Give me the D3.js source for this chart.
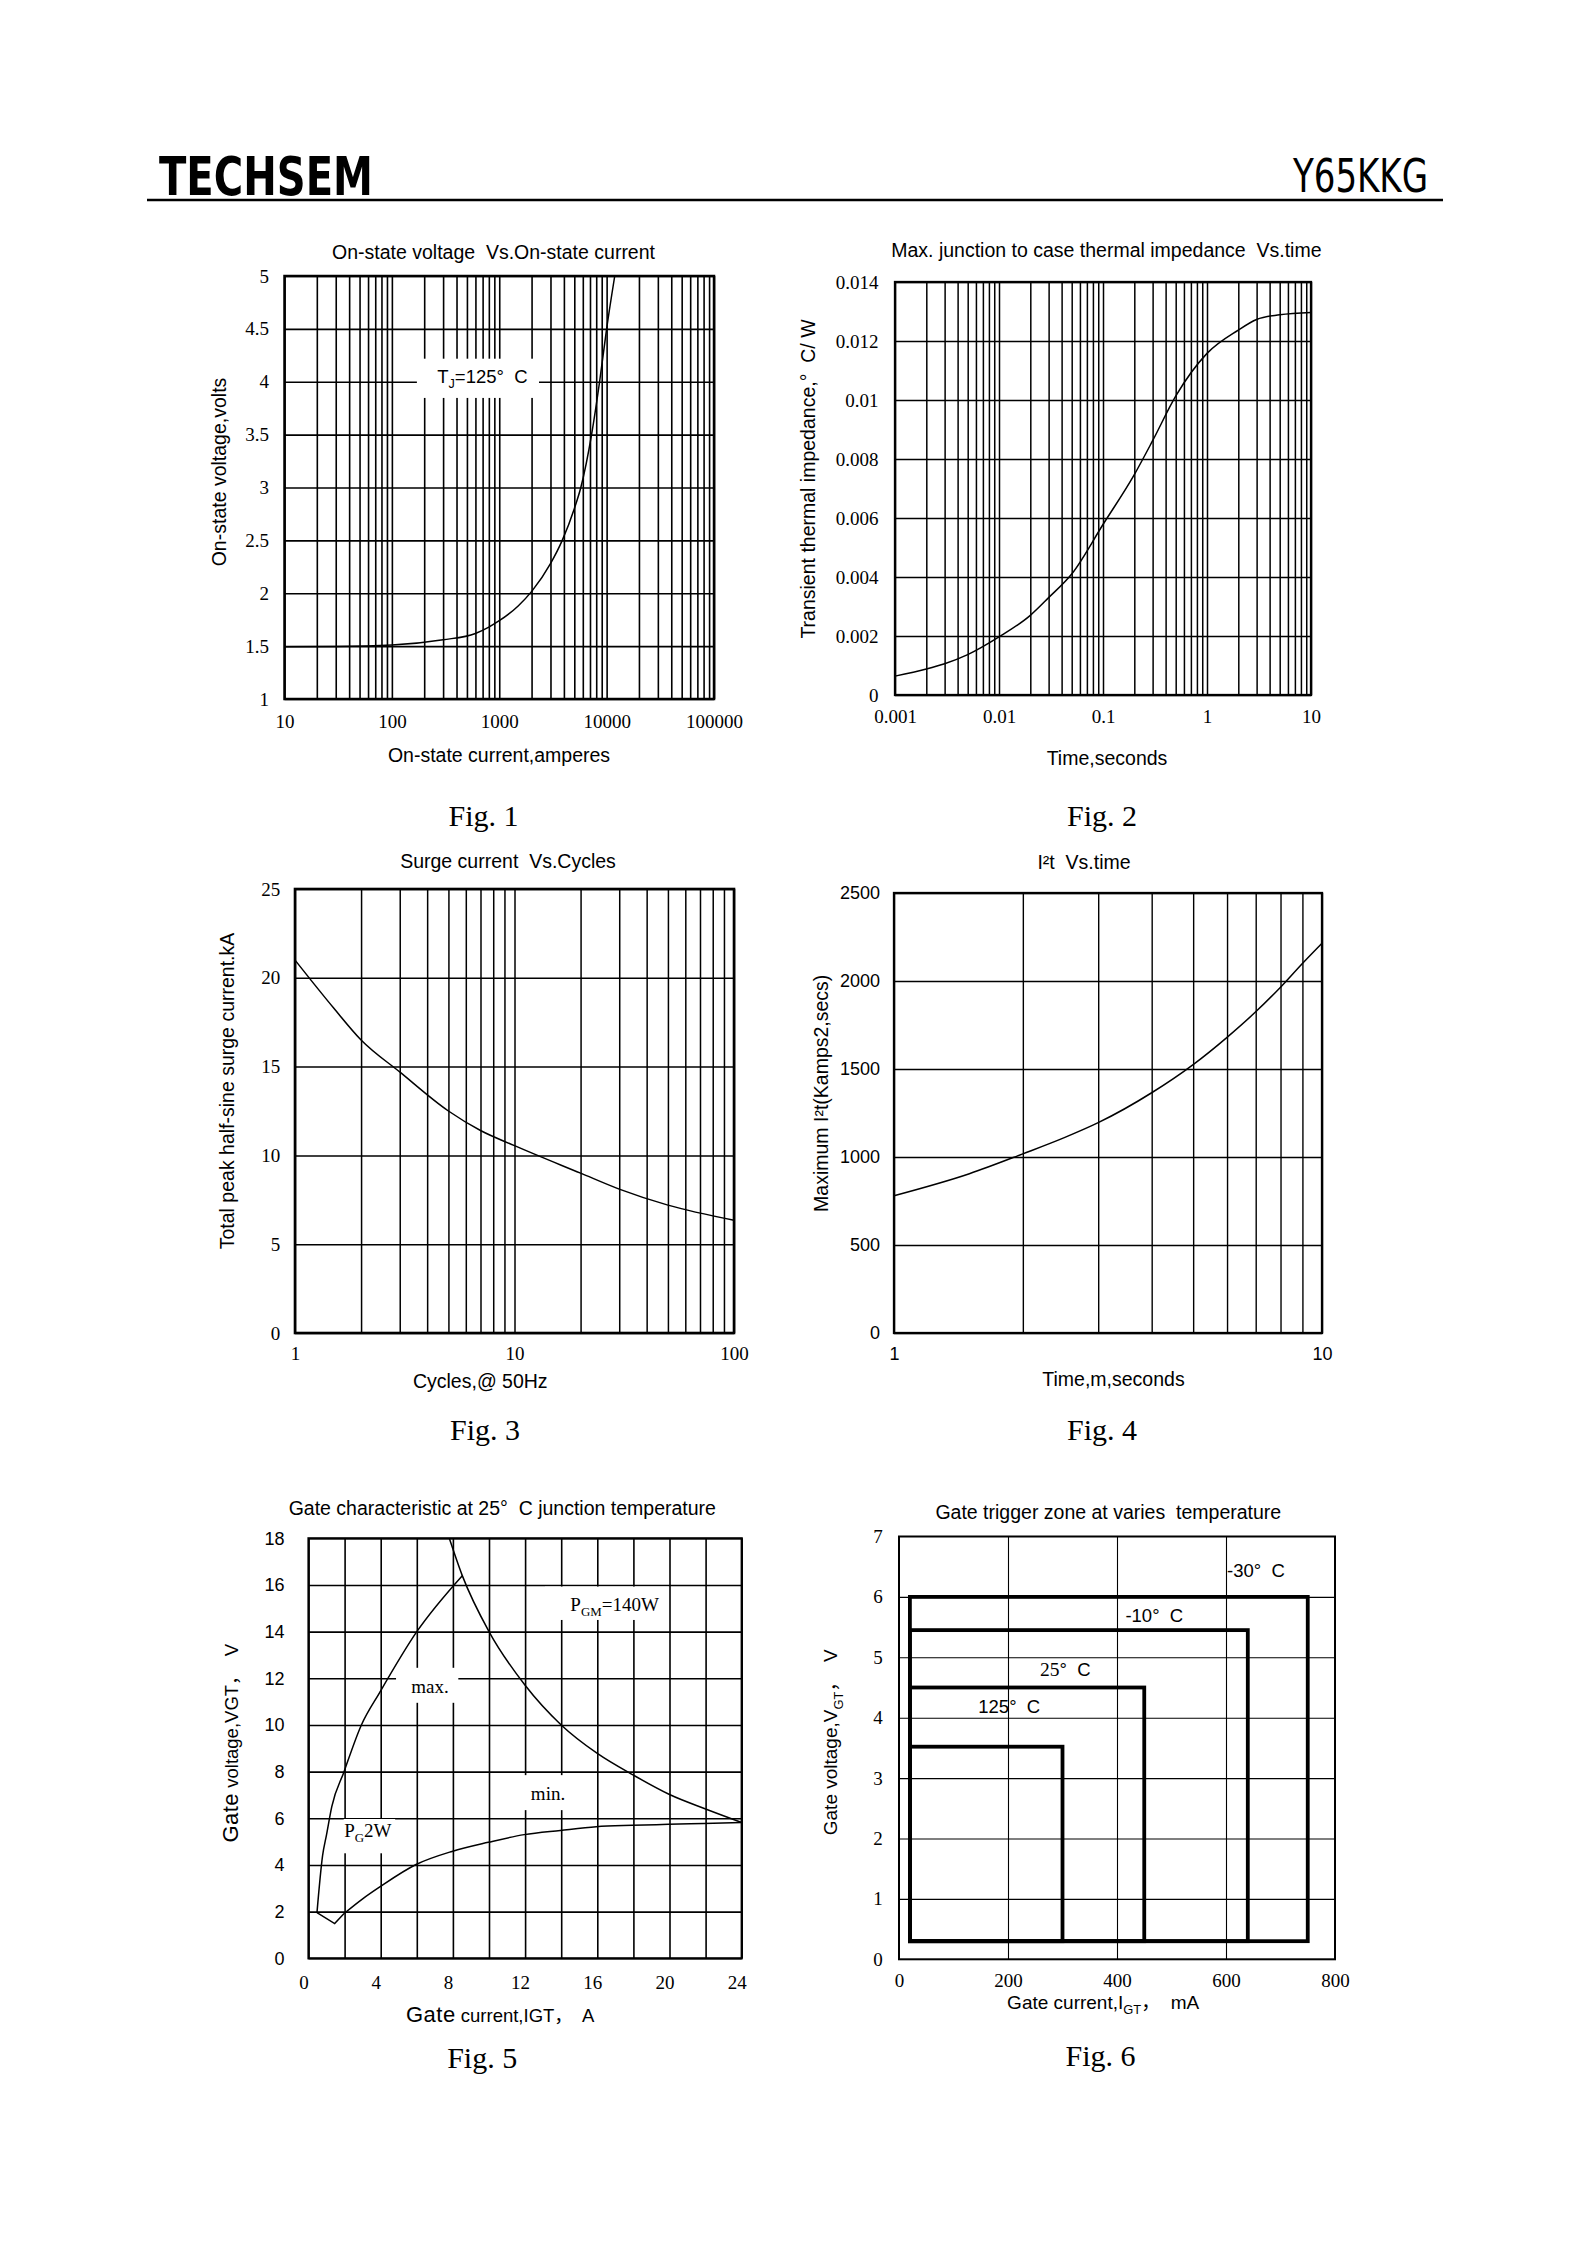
<!DOCTYPE html>
<html>
<head>
<meta charset="utf-8">
<script src="https://cdn.jsdelivr.net/npm/d3@7"></script>
<style>
  body { margin: 0; background: #fff; }
  text { white-space: pre; }
</style>
</head>
<body>
<script>
// Fig.1 on-state voltage vs current (Tj = 125 C)
const fig1Current = [10, 30, 100, 300, 600, 800, 1000, 1500, 2015, 3000, 3860, 5000, 5750, 7240, 8600, 10000, 11900];
const fig1Voltage = [1.495, 1.497, 1.51, 1.56, 1.62, 1.68, 1.74, 1.88, 2.02, 2.28, 2.5, 2.8, 3.0, 3.5, 4.0, 4.5, 5.0];
const fig1XLabels = [10, 100, 1000, 10000, 100000];
const fig1YLabels = [1, 1.5, 2, 2.5, 3, 3.5, 4, 4.5, 5];

// Fig.2 transient thermal impedance
const fig2Time = [0.001, 0.002, 0.003, 0.005, 0.01, 0.02, 0.03, 0.05, 0.1, 0.2, 0.3, 0.5, 1, 2, 3, 5, 10];
const fig2Zth = [0.00064, 0.00088, 0.00106, 0.00137, 0.00197, 0.0027, 0.0033, 0.0041, 0.00578, 0.00747, 0.00862, 0.01013, 0.01158, 0.01237, 0.01273, 0.01289, 0.01297];
const fig2XLabels = [0.001, 0.01, 0.1, 1, 10];
const fig2YLabels = [0, 0.002, 0.004, 0.006, 0.008, 0.01, 0.012, 0.014];

// Fig.3 surge current vs cycles
const fig3Cycles = [1, 1.5, 2, 3, 5, 7, 10, 20, 30, 50, 100];
const fig3Surge = [21.0, 18.3, 16.5, 14.7, 12.5, 11.4, 10.55, 9.0, 8.1, 7.2, 6.35];
const fig3XLabels = [1, 10, 100];
const fig3YLabels = [0, 5, 10, 15, 20, 25];

// Fig.4 I2t vs time
const fig4Time = [1, 1.5, 2, 2.5, 3, 4, 5, 6, 7, 8, 9, 10];
const fig4I2t = [780, 905, 1018, 1110, 1195, 1365, 1525, 1680, 1825, 1965, 2100, 2215];
const fig4XLabels = [1, 10];
const fig4YLabels = [0, 500, 1000, 1500, 2000, 2500];

// Fig.5 gate characteristic
const gateMaxI = [0.47, 0.78, 1.0, 1.29, 1.97, 2.93, 3.95, 6.0, 8.52];
const gateMaxV = [1.96, 4.4, 5.3, 6.5, 8.0, 10.0, 11.4, 14.0, 16.4];
const gatePgmI = [7.8, 8.52, 10, 12, 14, 16, 18, 20, 22, 24];
const gatePgmV = [18, 16.4, 14, 11.7, 10, 8.78, 7.85, 7.02, 6.4, 5.82];
const gateNotchI = [0.47, 1.45, 1.97];
const gateNotchV = [1.96, 1.49, 1.92];
const gateMinI = [1.97, 3.0, 3.95, 5.96, 7.95, 9.96, 11.95, 13.95, 15.94, 17.95, 19.94, 21.9, 24];
const gateMinV = [1.92, 2.55, 3.06, 4.02, 4.58, 4.97, 5.3, 5.48, 5.64, 5.7, 5.74, 5.78, 5.82];
const fig5XLabels = [0, 4, 8, 12, 16, 20, 24];
const fig5YLabels = [0, 2, 4, 6, 8, 10, 12, 14, 16, 18];

// Fig.6 gate trigger zones
const zoneNames = ["-30°  C", "-10°  C", "25°  C", "125°  C"];
const zoneIgtMin = [20, 20, 20, 20];
const zoneIgtMax = [750, 640, 450, 300];
const zoneVgtMin = [0.3, 0.3, 0.3, 0.3];
const zoneVgtMax = [6.0, 5.45, 4.5, 3.52];
const fig6XLabels = [0, 200, 400, 600, 800];
const fig6YLabels = [0, 1, 2, 3, 4, 5, 6, 7];

const SANS = "'Liberation Sans', Arial, 'Noto Sans CJK SC', sans-serif";
const SERIF = "'Liberation Serif', 'Times New Roman', serif";
const NARROW = "'Liberation Sans Narrow', 'DejaVu Sans Condensed', 'Liberation Sans', sans-serif";

const svg = d3.select("body").append("svg")
  .attr("width", 1588).attr("height", 2245)
  .style("background", "#fff");

// header
svg.append("text").attr("x", 159).attr("y", 195)
  .attr("font-family", NARROW).attr("font-weight", "bold").attr("font-size", 54)
  .attr("textLength", 214).attr("lengthAdjust", "spacingAndGlyphs")
  .text("TECHSEM");
svg.append("text").attr("x", 1428).attr("y", 192).attr("text-anchor", "end")
  .attr("font-family", NARROW).attr("font-size", 46)
  .attr("textLength", 135).attr("lengthAdjust", "spacingAndGlyphs")
  .text("Y65KKG");
svg.append("line").attr("x1", 147).attr("x2", 1443).attr("y1", 200).attr("y2", 200)
  .attr("stroke", "#000").attr("stroke-width", 2.5);

//writes text pieces with sub/superscripts into one text element
function rich(t, parts, size) {
  let shift = 0;
  parts.forEach(p => {
    const ts = t.append("tspan").text(p.t);
    const want = p.sub ? size * 0.3 : 0;
    if (want !== shift) { ts.attr("dy", want - shift); shift = want; }
    if (p.sub) ts.attr("font-size", size * 0.68);
    if (p.size) ts.attr("font-size", p.size);
    if (p.family) ts.attr("font-family", p.family);
    if (p.ls) ts.attr("letter-spacing", p.ls);
  });
  return t;
}

function label(x, y, parts, size, family, anchor) {
  const t = svg.append("text").attr("x", x).attr("y", y)
    .attr("font-family", family || SANS).attr("font-size", size)
    .attr("text-anchor", anchor || "middle");
  return rich(t, typeof parts === "string" ? [{ t: parts }] : parts, size);
}

function ylabel(x, y, parts, size) {
  const t = svg.append("text").attr("transform", `translate(${x},${y}) rotate(-90)`)
    .attr("dy", "0.35em").attr("font-family", SANS).attr("font-size", size)
    .attr("text-anchor", "middle");
  return rich(t, typeof parts === "string" ? [{ t: parts }] : parts, size);
}

//Builds one chart frame with its grid and tick labels
function panel(box, o) {
  const w = box.right - box.left, h = box.bottom - box.top;
  const g = svg.append("g").attr("transform", `translate(${box.left},${box.top})`);
  const x = (o.xLog ? d3.scaleLog() : d3.scaleLinear()).domain(o.xDomain).range([0, w]);
  const y = d3.scaleLinear().domain(o.yDomain).range([h, 0]);

  const gx = g.append("g").attr("transform", `translate(0,${h})`)
    .call(d3.axisBottom(x).tickValues(o.xGrid || x.ticks()).tickSize(-h).tickFormat(""));
  const gy = g.append("g")
    .call(d3.axisLeft(y).tickValues(o.yGrid).tickSize(-w).tickFormat(""));
  [gx, gy].forEach(a => {
    a.select(".domain").remove();
    a.selectAll("line").attr("stroke", "#000").attr("stroke-width", o.gridW);
  });

  const boxes = g.append("g");

  g.append("rect").attr("width", w).attr("height", h)
    .attr("fill", "none").attr("stroke", "#000").attr("stroke-width", o.frameW);

  const lx = g.append("g").attr("transform", `translate(${o.xLabelDx || 0},${h})`)
    .call(d3.axisBottom(x).tickValues(o.xLabels).tickSize(0).tickPadding(o.xPad).tickFormat(d => String(d)));
  lx.select(".domain").remove();
  lx.attr("font-family", o.xFont).attr("font-size", o.xSize);

  const ly = g.append("g")
    .call(d3.axisLeft(y).tickValues(o.yLabels).tickSize(0).tickPadding(o.yPad).tickFormat(d => String(d)));
  ly.select(".domain").remove();
  ly.attr("font-family", o.yFont).attr("font-size", o.ySize);

  return { g, x, y, w, h, boxes };
}

function curve(p, xs, ys, kind) {
  p.g.append("path").datum(d3.zip(xs, ys))
    .attr("fill", "none").attr("stroke", "#000").attr("stroke-width", 1.5)
    .attr("d", d3.line().x(d => p.x(d[0])).y(d => p.y(d[1])).curve(kind || d3.curveMonotoneX));
}

function whiteBox(p, x0, x1, y0, y1) {
  p.boxes.append("rect")
    .attr("x", p.x(x0)).attr("width", p.x(x1) - p.x(x0))
    .attr("y", p.y(y1)).attr("height", p.y(y0) - p.y(y1))
    .attr("fill", "#fff");
}

// ---------- Fig.1
const p1 = panel({ left: 284.5, right: 714, top: 276, bottom: 699 }, {
  xLog: true, xDomain: [10, 100000], yDomain: [1, 5],
  yGrid: fig1YLabels, xLabels: fig1XLabels, yLabels: fig1YLabels,
  gridW: 1.6, frameW: 2.5, xPad: 16, yPad: 15.5,
  xFont: SERIF, xSize: 19, yFont: SERIF, ySize: 19
});
whiteBox(p1, 171, 2345, 3.847, 4.218);
curve(p1, fig1Current, fig1Voltage);
p1.g.append("text").attr("x", p1.x(697)).attr("y", p1.y(3.992))
  .attr("text-anchor", "middle").attr("font-family", SANS).attr("font-size", 18.5)
  .call(t => rich(t, [{ t: "T" }, { t: "J", sub: true }, { t: "=125°  C" }], 18.5));
label(493.5, 258.6, "On-state voltage  Vs.On-state current", 19.5);
label(499, 762, "On-state current,amperes", 19.5);
ylabel(219, 472, "On-state voltage,volts", 19.5);
label(483.5, 826, "Fig. 1", 30, SERIF);

// ---------- Fig.2
const p2 = panel({ left: 895, right: 1311, top: 282, bottom: 695 }, {
  xLog: true, xDomain: [0.001, 10], yDomain: [0, 0.014],
  yGrid: fig2YLabels, xLabels: fig2XLabels, yLabels: fig2YLabels,
  gridW: 1.5, frameW: 2.3, xPad: 14.8, yPad: 16.5,
  xFont: SERIF, xSize: 19, yFont: SERIF, ySize: 19
});
curve(p2, fig2Time, fig2Zth);
label(1106.4, 256.7, "Max. junction to case thermal impedance  Vs.time", 19.5);
label(1107, 765, "Time,seconds", 19.5);
ylabel(808.6, 479, "Transient thermal impedance,°  C/ W", 19.5);
label(1102, 826, "Fig. 2", 30, SERIF);

// ---------- Fig.3
const p3 = panel({ left: 295, right: 734, top: 889, bottom: 1333 }, {
  xLog: true, xDomain: [1, 100], yDomain: [0, 25],
  yGrid: fig3YLabels, xLabels: fig3XLabels, yLabels: fig3YLabels,
  gridW: 1.5, frameW: 2.6, xPad: 14, yPad: 14.8,
  xFont: SERIF, xSize: 19, yFont: SERIF, ySize: 19
});
curve(p3, fig3Cycles, fig3Surge);
label(508, 868, "Surge current  Vs.Cycles", 19.5);
label(480.3, 1388, "Cycles,@ 50Hz", 19.5);
ylabel(227.3, 1091, "Total peak half-sine surge current.kA", 19.5);
label(485, 1440, "Fig. 3", 30, SERIF);

// ---------- Fig.4
const p4 = panel({ left: 894, right: 1322, top: 893, bottom: 1333 }, {
  xLog: true, xDomain: [1, 10], yDomain: [0, 2500],
  yGrid: fig4YLabels, xLabels: fig4XLabels, yLabels: fig4YLabels,
  gridW: 1.4, frameW: 2.3, xPad: 14.6, yPad: 14,
  xFont: SANS, xSize: 18, yFont: SANS, ySize: 18
});
curve(p4, fig4Time, fig4I2t);
label(1084, 868.7, "I²t  Vs.time", 19.5);
label(1113.5, 1385.7, "Time,m,seconds", 19.5);
ylabel(821.3, 1093.3, "Maximum I²t(Kamps2,secs)", 19.5);
label(1102, 1440, "Fig. 4", 30, SERIF);

// ---------- Fig.5
const p5 = panel({ left: 308.5, right: 741.7, top: 1538.3, bottom: 1958.3 }, {
  xDomain: [0, 24], yDomain: [0, 18],
  xGrid: d3.range(0, 25, 2), yGrid: d3.range(0, 19, 2),
  xLabels: fig5XLabels, yLabels: fig5YLabels, xLabelDx: -5,
  gridW: 1.6, frameW: 2.2, xPad: 17.3, yPad: 24,
  xFont: SERIF, xSize: 19, yFont: SANS, ySize: 18
});
whiteBox(p5, 13.1, 19.95, 14.5, 15.93);
whiteBox(p5, 4.85, 8.3, 10.95, 12.45);
whiteBox(p5, 11.53, 14.86, 6.35, 7.85);
whiteBox(p5, 1.95, 4.8, 4.5, 5.97);
curve(p5, gateMaxI, gateMaxV);
curve(p5, gatePgmI, gatePgmV);
curve(p5, gateNotchI, gateNotchV, d3.curveLinear);
curve(p5, gateMinI, gateMinV);
const p5Text = (xv, yv, parts) => p5.g.append("text")
  .attr("x", p5.x(xv)).attr("y", p5.y(yv)).attr("text-anchor", "middle")
  .attr("font-family", SERIF).attr("font-size", 19)
  .call(t => rich(t, parts, 19));
p5Text(16.96, 14.9, [{ t: "P" }, { t: "GM", sub: true }, { t: "=140W" }]);
p5Text(6.73, 11.36, [{ t: "max." }]);
p5Text(13.27, 6.79, [{ t: "min." }]);
p5Text(3.29, 5.21, [{ t: "P" }, { t: "G", sub: true }, { t: "2W" }]);
label(502.3, 1515.3, "Gate characteristic at 25°  C junction temperature", 19.5);
label(500.2, 2022, [{ t: "Gate", size: 22, ls: 0.5 }, { t: " current,IGT，  A" }], 18.5);
ylabel(231.9, 1743.2, [{ t: "Gate", size: 22, ls: 0.5 }, { t: " voltage,VGT，  V" }], 18.5);
label(482.2, 2068, "Fig. 5", 30, SERIF);

// ---------- Fig.6
const p6 = panel({ left: 899, right: 1335, top: 1536.5, bottom: 1959.3 }, {
  xDomain: [0, 800], yDomain: [0, 7],
  xGrid: [200, 400, 600], yGrid: [1, 2, 3, 4, 5, 6],
  xLabels: fig6XLabels, yLabels: fig6YLabels,
  gridW: 1.1, frameW: 2, xPad: 14.2, yPad: 16.2,
  xFont: SERIF, xSize: 19, yFont: SERIF, ySize: 19
});
p6.g.append("g").selectAll("rect")
  .data(zoneNames.map((n, i) => ({ n, i0: zoneIgtMin[i], i1: zoneIgtMax[i], v0: zoneVgtMin[i], v1: zoneVgtMax[i] })))
  .join("rect")
  .attr("x", d => p6.x(d.i0)).attr("y", d => p6.y(d.v1))
  .attr("width", d => p6.x(d.i1) - p6.x(d.i0))
  .attr("height", d => p6.y(d.v0) - p6.y(d.v1))
  .attr("fill", "none").attr("stroke", "#000").attr("stroke-width", 3.8);
const zoneLabelAt = [[602, 6.33], [415.4, 5.59], [258.7, 4.69], [145.5, 4.08]];
zoneNames.forEach((n, i) => {
  const t = p6.g.append("text")
    .attr("x", p6.x(zoneLabelAt[i][0])).attr("y", p6.y(zoneLabelAt[i][1]))
    .attr("font-family", SANS).attr("font-size", 18.5);
  if (n.startsWith("25")) rich(t, [{ t: "25", family: SERIF, size: 19.5 }, { t: n.slice(2) }], 18.5);
  else t.text(n);
});
label(1108.3, 1519, "Gate trigger zone at varies  temperature", 19.5);
label(1103.2, 2008.6, [{ t: "Gate current,I" }, { t: "GT", sub: true }, { t: "，  mA" }], 19);
ylabel(830.3, 1742.3, [{ t: "Gate voltage,V" }, { t: "GT", sub: true }, { t: "，  V" }], 19);
label(1100.5, 2066, "Fig. 6", 30, SERIF);
</script>
</body>
</html>
